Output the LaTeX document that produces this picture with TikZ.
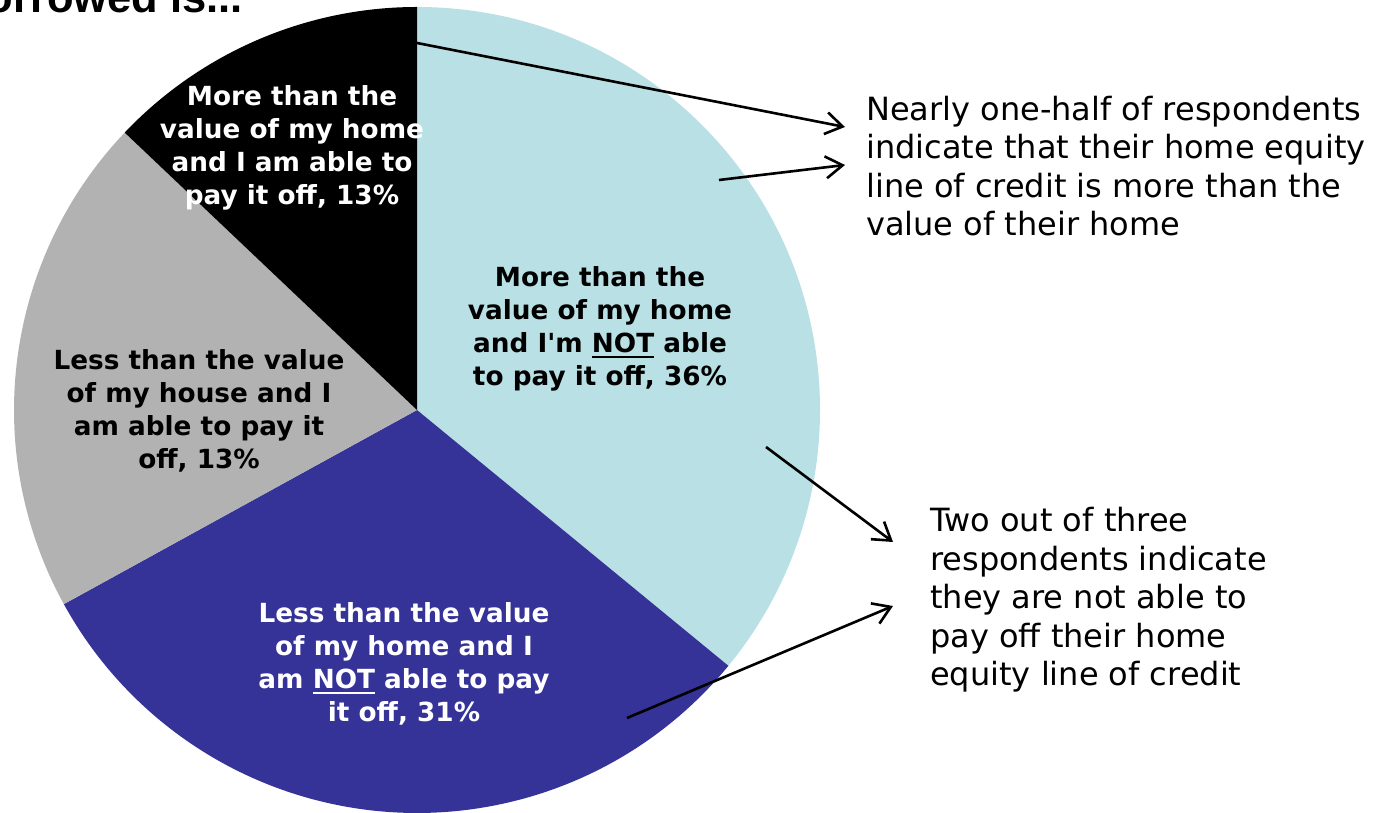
\documentclass[tikz,border=0pt]{standalone}
\usepackage{fontspec}
\setmainfont{DejaVu Sans}[Ligatures=TeXOff]
\newfontfamily\titlefont{Liberation Sans}
\usetikzlibrary{arrows.meta}
\definecolor{sliceA}{RGB}{185,224,228}
\definecolor{sliceB}{RGB}{53,51,151}
\definecolor{sliceC}{RGB}{178,178,178}
\newcommand\myul[1]{\setbox0\hbox{#1}\rlap{\rule[-0.2em]{\wd0}{0.08em}}\box0\relax}
\begin{document}
\begin{tikzpicture}[x=1pt,y=1pt,
  lbl/.style={font=\bfseries\fontsize{26.3}{33}\selectfont, align=center, inner sep=0},
  note/.style={font=\fontsize{32}{38.5}\selectfont, align=left, inner sep=0, anchor=west},
  callout/.style={line width=2.6pt, -{Straight Barb[length=17pt,width=22pt]}}]
\useasboundingbox (0,0) rectangle (1379,813);
\fill[white] (0,0) rectangle (1379,813);
\coordinate (C) at (417,403);
\def\pieR{403}
\fill[sliceA] (C) -- ++(90:\pieR) arc[start angle=90,end angle=-39.4,radius=\pieR] -- cycle;
\fill[sliceB] (C) -- ++(-39.4:\pieR) arc[start angle=-39.4,end angle=-151.2,radius=\pieR] -- cycle;
\fill[sliceC] (C) -- ++(208.8:\pieR) arc[start angle=208.8,end angle=136.5,radius=\pieR] -- cycle;
\fill[black] (C) -- ++(136.5:\pieR) arc[start angle=136.5,end angle=90,radius=\pieR] -- cycle;

\node[lbl,text=white] (lblD) at (292,665) {More than the\\value of my home\\and I am able to\\pay it off, 13\%};
\node[lbl] (lblA) at (600,484) {More than the\\value of my home\\and I'm \myul{NOT} able\\to pay it off, 36\%};
\node[lbl] (lblC) at (199,402) {Less than the value\\of my house and I\\am able to pay it\\off, 13\%};
\node[lbl,text=white] (lblB) at (404,149) {Less than the value\\of my home and I\\am \myul{NOT} able to pay\\it off, 31\%};

\node[note] (noteTop) at (866,647) {Nearly one-half of respondents\\indicate that their home equity\\line of credit is more than the\\value of their home};
\node[note] (noteBot) at (930,213) {Two out of three\\respondents indicate\\they are not able to\\pay off their home\\equity line of credit};

\node[font=\titlefont\bfseries\fontsize{43.5}{50}\selectfont, anchor=base east, inner sep=0] (title) at (243,800) {borrowed is...};

\coordinate (s1) at (417,770); \coordinate (e1) at (845,686);
\coordinate (s2) at (719,633); \coordinate (e2) at (845,648);
\coordinate (s3) at (766,366); \coordinate (e3) at (893,271);
\coordinate (s4) at (627,95);  \coordinate (e4) at (893,207);
\draw[callout] (s1) -- (e1);
\draw[callout] (s2) -- (e2);
\draw[callout] (s3) -- (e3);
\draw[callout] (s4) -- (e4);
\end{tikzpicture}
\end{document}
